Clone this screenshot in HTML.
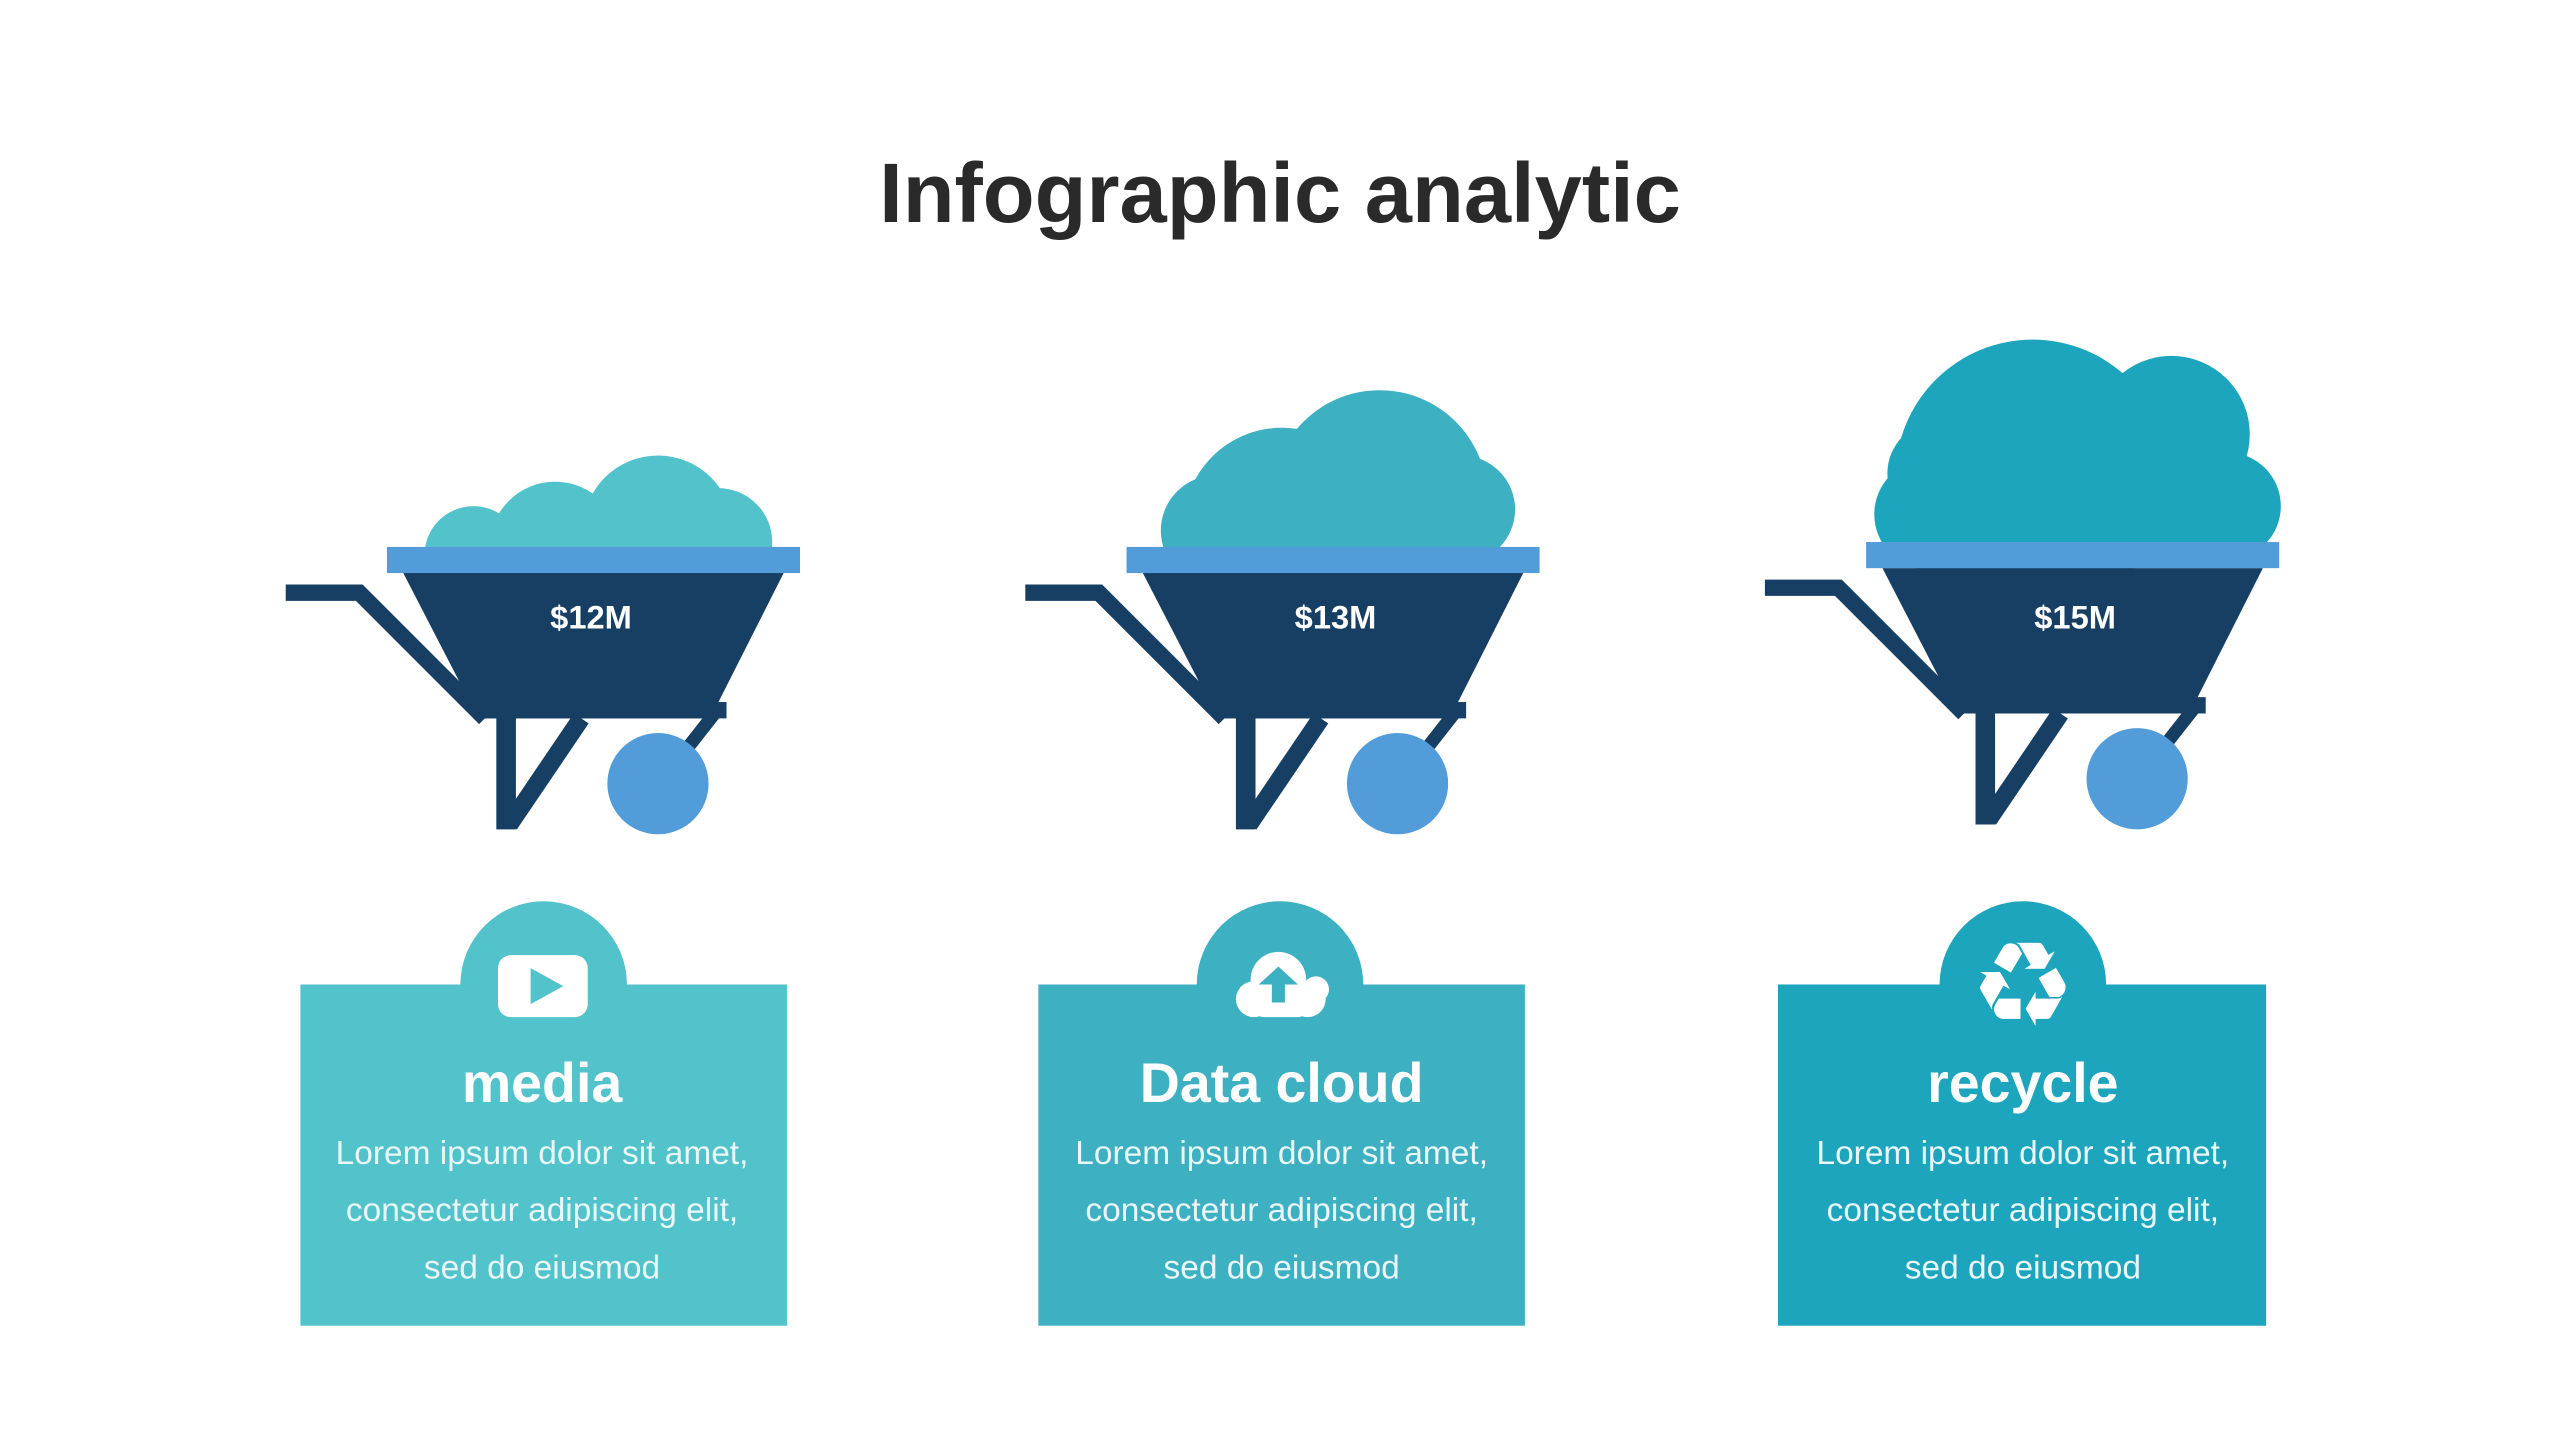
<!DOCTYPE html>
<html><head><meta charset="utf-8"><style>
html,body{margin:0;padding:0;background:#fff;width:2560px;height:1440px;overflow:hidden}
svg{display:block}
text{font-family:"Liberation Sans",sans-serif}
</style></head><body>
<svg width="2560" height="1440" viewBox="0 0 1568 882" xmlns="http://www.w3.org/2000/svg">
<defs>
<g id="wb">
  <polyline points="175,363 220,363 297,440" fill="none" stroke="#173f63" stroke-width="10"/>
  <polygon points="247,351 480,351 435,440 293,440" fill="#173f63"/>
  <rect x="290" y="430" width="155" height="10" fill="#173f63"/>
  <rect x="304" y="438" width="12" height="70" fill="#173f63"/>
  <polyline points="356,440 312,505" fill="none" stroke="#173f63" stroke-width="11"/>
  <line x1="440" y1="434" x2="418" y2="462" stroke="#173f63" stroke-width="8"/>
  <circle cx="403" cy="480" r="31" fill="#529dd9"/>
  <rect x="237" y="335" width="253" height="16" fill="#529dd9"/>
</g>
<clipPath id="c1"><rect x="0" y="0" width="1568" height="340"/></clipPath>
</defs>

<text x="784" y="136" text-anchor="middle" font-size="52" font-weight="bold" fill="#2a2a2a">Infographic analytic</text>

<g fill="#52c2cb" clip-path="url(#c1)">
  <circle cx="290" cy="340" r="30"/>
  <circle cx="340" cy="335" r="40"/>
  <circle cx="403" cy="325" r="46"/>
  <circle cx="440" cy="332" r="33"/>
</g>
<use href="#wb"/>
<text x="362" y="385" text-anchor="middle" font-size="20" font-weight="bold" fill="#fff">$12M</text>

<g fill="#3db0c2" clip-path="url(#c1)">
  <circle cx="745" cy="325" r="34"/>
  <circle cx="785" cy="322" r="60"/>
  <circle cx="845" cy="305" r="66"/>
  <circle cx="895" cy="312" r="33"/>
</g>
<use href="#wb" x="453"/>
<text x="818" y="385" text-anchor="middle" font-size="20" font-weight="bold" fill="#fff">$13M</text>

<g fill="#1ca5bc">
  <circle cx="1182" cy="315" r="34"/>
  <circle cx="1188" cy="290" r="32"/>
  <circle cx="1245" cy="292" r="84"/>
  <circle cx="1330" cy="266" r="48"/>
  <circle cx="1330" cy="300" r="40"/>
  <circle cx="1364" cy="310" r="33"/>
</g>
<use href="#wb" x="906" y="-3"/>
<text x="1271" y="385" text-anchor="middle" font-size="20" font-weight="bold" fill="#fff">$15M</text>

<g>
  <circle cx="333" cy="603" r="51" fill="#52c2cb"/>
  <rect x="184" y="603" width="298" height="209" fill="#52c2cb"/>
  <rect x="305" y="585" width="55" height="38" rx="8" fill="#fff"/>
  <polygon points="325,593 325,615 345,604" fill="#52c2cb"/>
  <text x="332" y="675" text-anchor="middle" font-size="34" font-weight="bold" fill="#fff">media</text>
  <text x="332" y="713" text-anchor="middle" font-size="20.5" fill="#eaf7f8">Lorem ipsum dolor sit amet,</text>
  <text x="332" y="748" text-anchor="middle" font-size="20.5" fill="#eaf7f8">consectetur adipiscing elit,</text>
  <text x="332" y="783" text-anchor="middle" font-size="20.5" fill="#eaf7f8">sed do eiusmod</text>
</g>
<g>
  <circle cx="784" cy="603" r="51" fill="#3db0c2"/>
  <rect x="636" y="603" width="298" height="209" fill="#3db0c2"/>
  <g fill="#fff">
    <circle cx="783" cy="600" r="17"/>
    <circle cx="806" cy="606" r="8"/>
    <circle cx="768" cy="612" r="11"/>
    <circle cx="801" cy="612" r="11"/>
    <rect x="768" y="605" width="33" height="18" rx="6"/>
  </g>
  <polygon points="783,592 771,603 779,603 779,614 787,614 787,603 795,603" fill="#3db0c2"/>
  <text x="785" y="675" text-anchor="middle" font-size="34" font-weight="bold" fill="#fff">Data cloud</text>
  <text x="785" y="713" text-anchor="middle" font-size="20.5" fill="#eaf7f8">Lorem ipsum dolor sit amet,</text>
  <text x="785" y="748" text-anchor="middle" font-size="20.5" fill="#eaf7f8">consectetur adipiscing elit,</text>
  <text x="785" y="783" text-anchor="middle" font-size="20.5" fill="#eaf7f8">sed do eiusmod</text>
</g>
<g>
  <circle cx="1239" cy="603" r="51" fill="#1ca5bc"/>
  <rect x="1089" y="603" width="299" height="209" fill="#1ca5bc"/>
  <text x="1239" y="628" text-anchor="middle" font-size="72" fill="#fff" font-family="DejaVu Sans, sans-serif">♻</text>
  <text x="1239" y="675" text-anchor="middle" font-size="34" font-weight="bold" fill="#fff">recycle</text>
  <text x="1239" y="713" text-anchor="middle" font-size="20.5" fill="#eaf7f8">Lorem ipsum dolor sit amet,</text>
  <text x="1239" y="748" text-anchor="middle" font-size="20.5" fill="#eaf7f8">consectetur adipiscing elit,</text>
  <text x="1239" y="783" text-anchor="middle" font-size="20.5" fill="#eaf7f8">sed do eiusmod</text>
</g>
</svg>
</body></html>
